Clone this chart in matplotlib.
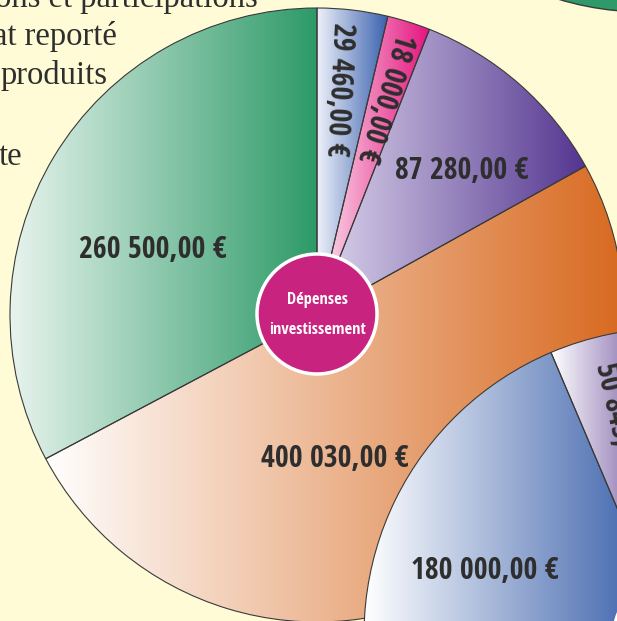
import os
import re
import numpy as np
import matplotlib
matplotlib.use("Agg")
from matplotlib import pyplot as plt
from matplotlib import font_manager
from matplotlib.font_manager import FontProperties
from matplotlib.textpath import TextPath
from matplotlib.colors import LinearSegmentedColormap
from matplotlib.patches import Circle

W, H = 617, 621

# main pie : dépenses d'investissement, clockwise from 12 o'clock
dep_values = [29460, 18000, 87280, 400030, 260500]
dep_labels = ["29 460,00 €", "18 000,00 €", "87 280,00 €", "400 030,00 €", "260 500,00 €"]
dep_light = ["#EEF0FA", "#FBE3EF", "#DCD6EC", "#FFFFFF", "#E8F4EE"]
dep_dark = ["#3A62AE", "#E5137E", "#543590", "#D8691F", "#2D9A68"]

# second pie, mostly outside the picture (same total as the main one)
rec_values = [50845, 180000]
rec_labels = ["50 845,00 €", "180 000,00 €"]
rec_light = ["#FFFFFF", "#FFFFFF"]
rec_dark = ["#5A3A90", "#2C55A4"]

# text on the left, partly hidden behind the pie
side_text = ["ons et participations", "at reporté", "produits", "te"]

BG = "#FFFBD6"
INK = "#2E2E2E"
EDGE = "#3A3A3A"


# narrowest installed bold sans (the original uses a condensed face)
def pick_label_font():
    sample = "260 500,00 €"
    best = None
    for f in font_manager.fontManager.ttflist:
        p = os.path.basename(f.fname).lower()
        if not re.match(r"(dejavusans|liberationsans|notosans-|notosans[a-z]*cond|roboto|opensans|lato|inter)", p):
            continue
        if re.search(r"(italic|oblique|mono|semibold|extrabold|demibold|ultrabold|black)", p):
            continue
        if "bold" not in p:
            continue
        try:
            fp = FontProperties(fname=f.fname)
            ext = TextPath((0, 0), sample, size=1, prop=fp).get_extents()
            dig = TextPath((0, 0), "0", size=1, prop=fp).get_extents()
        except Exception:
            continue
        ratio = dig.height / ext.width
        if best is None or ratio > best[0]:
            best = (ratio, f.fname)
    if best:
        return FontProperties(fname=best[1])
    return FontProperties(family="DejaVu Sans", weight="bold")


LABEL_FP = pick_label_font()


def fit_size(text, width_px, max_px):
    em = TextPath((0, 0), text, size=1, prop=LABEL_FP).get_extents().width
    return min(width_px / em, max_px) * 0.72  # px -> pt at 100 dpi


LABEL_PT = fit_size("260 500,00 €", 146, 36)
CENTER_PT = fit_size("investissement", 95, 21)


def Y(y):  # picture rows (from top) -> axes y (from bottom)
    return H - y


def gradient_fill(ax, wedge, light, dark, z):
    x0, y0, x1, y1 = wedge.get_path().get_extents().extents
    cmap = LinearSegmentedColormap.from_list("", [light, dark])
    im = ax.imshow(np.linspace(0, 1, 256).reshape(1, -1), cmap=cmap,
                   extent=(x0, x1, y0, y1), origin="lower", aspect="auto",
                   interpolation="bilinear", zorder=z)
    im.set_clip_path(wedge)


fig = plt.figure(figsize=(W / 100, H / 100), dpi=100, facecolor=BG)
ax = fig.add_axes([0, 0, 1, 1])
ax.set_facecolor(BG)

# left text
for txt, (x, y) in zip(side_text, [(258, 7), (117, 45), (108, 84), (22, 165)]):
    ax.text(x, Y(y), txt, ha="right", va="baseline", fontsize=23.5,
            family="Liberation Serif", color=INK, zorder=0.5)

# corner of another pie at the top right
ax.add_patch(Circle((645, Y(-288)), 300, facecolor="#2E9A6A", edgecolor=EDGE,
                    linewidth=1.0, zorder=0.8))

total = sum(dep_values)

# main pie
wedges, _ = ax.pie(dep_values, startangle=90, counterclock=False,
                   center=(317, Y(315)), radius=307, colors=["none"] * 5,
                   wedgeprops=dict(edgecolor=EDGE, linewidth=0.8, zorder=2),
                   frame=True)
for w, lo, hi in zip(wedges, dep_light, dep_dark):
    gradient_fill(ax, w, lo, hi, 1.5)

dep_pos = [(338, 89, -93), (385, 97, -107), (462, 171, 0), (335, 459, 0), (153, 250, 0)]
for lab, (x, y, rot) in zip(dep_labels, dep_pos):
    ax.text(x, Y(y), lab, ha="center", va="center", rotation=rot,
            rotation_mode="anchor", fontproperties=LABEL_FP, fontsize=LABEL_PT,
            color=INK, zorder=3)

ax.add_patch(Circle((317, Y(314)), 60, facecolor="#C8247F", edgecolor="white",
                    linewidth=2.5, zorder=3.5))
ax.text(317, Y(304), "Dépenses", ha="center", va="baseline",
        fontproperties=LABEL_FP, fontsize=CENTER_PT, color="white", zorder=4)
ax.text(317, Y(334), "investissement", ha="center", va="baseline",
        fontproperties=LABEL_FP, fontsize=CENTER_PT, color="white", zorder=4)

# second pie, in front of the main one
wedges2, _ = ax.pie(np.array(rec_values) / total, normalize=False, startangle=90,
                    counterclock=True, center=(671, Y(635)), radius=307,
                    colors=["none"] * 2,
                    wedgeprops=dict(edgecolor=EDGE, linewidth=0.8, zorder=5),
                    frame=True)
for w, lo, hi in zip(wedges2, rec_light, rec_dark):
    gradient_fill(ax, w, lo, hi, 4.5)

rec_pos = [(619, 428, -77), (485, 571, 0)]
for lab, (x, y, rot) in zip(rec_labels, rec_pos):
    ax.text(x, Y(y), lab, ha="center", va="center", rotation=rot,
            rotation_mode="anchor", fontproperties=LABEL_FP, fontsize=LABEL_PT,
            color=INK, zorder=6)

ax.add_patch(Circle((671, Y(635)), 57, facecolor="#C8247F", edgecolor="white",
                    linewidth=2.5, zorder=6.5))

ax.set_xlim(0, W)
ax.set_ylim(0, H)
ax.set_aspect("auto")
ax.axis("off")

fig.savefig("out.png", dpi=100, facecolor=BG)
